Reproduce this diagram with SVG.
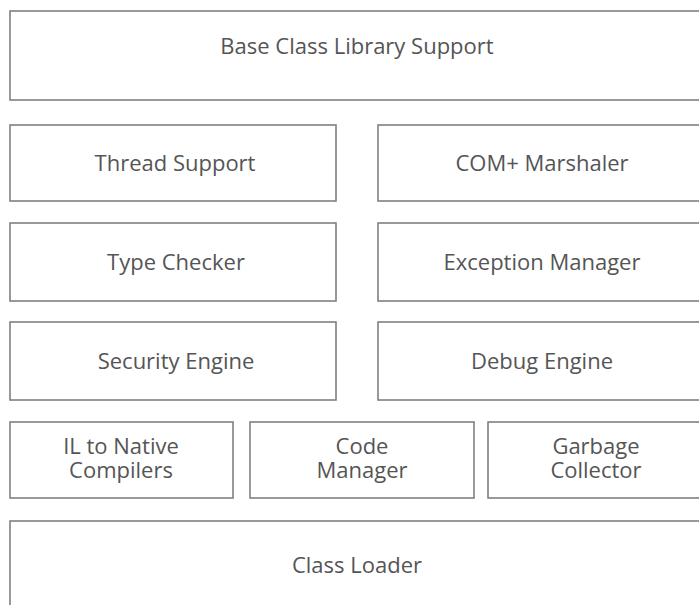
<svg xmlns="http://www.w3.org/2000/svg" width="699" height="605" viewBox="0 0 699 605">
<style>
rect.b{fill:#fff;stroke:#808080;stroke-width:1.6}
text{font-family:"Open Sans","Noto Sans",sans-serif;font-size:22px;fill:#555;text-anchor:middle}
</style>
<rect width="699" height="605" fill="#fff"/>
<g id="base-class-library"><rect class="b" x="10" y="11" width="694" height="89"/><text x="357" y="54">Base Class Library Support</text></g>
<g id="thread-support"><rect class="b" x="10" y="125" width="326" height="76"/><text x="175" y="171">Thread Support</text></g>
<g id="com-marshaler"><rect class="b" x="378" y="125" width="326" height="76"/><text x="542" y="171">COM+ Marshaler</text></g>
<g id="type-checker"><rect class="b" x="10" y="223" width="326" height="78"/><text x="176" y="270">Type Checker</text></g>
<g id="exception-manager"><rect class="b" x="378" y="223" width="326" height="78"/><text x="542" y="270">Exception Manager</text></g>
<g id="security-engine"><rect class="b" x="10" y="322" width="326" height="78"/><text x="176" y="369">Security Engine</text></g>
<g id="debug-engine"><rect class="b" x="378" y="322" width="326" height="78"/><text x="542" y="369">Debug Engine</text></g>
<g id="il-compilers"><rect class="b" x="10" y="422" width="223" height="76"/><text x="121" y="454">IL to Native</text><text x="121" y="478">Compilers</text></g>
<g id="code-manager"><rect class="b" x="250" y="422" width="224" height="76"/><text x="362" y="454">Code</text><text x="362" y="478">Manager</text></g>
<g id="garbage-collector"><rect class="b" x="488" y="422" width="216" height="76"/><text x="596" y="454">Garbage</text><text x="596" y="478">Collector</text></g>
<g id="class-loader"><rect class="b" x="10" y="521" width="694" height="90"/><text x="357" y="573">Class Loader</text></g>
<g id="connectors"></g>
</svg>
